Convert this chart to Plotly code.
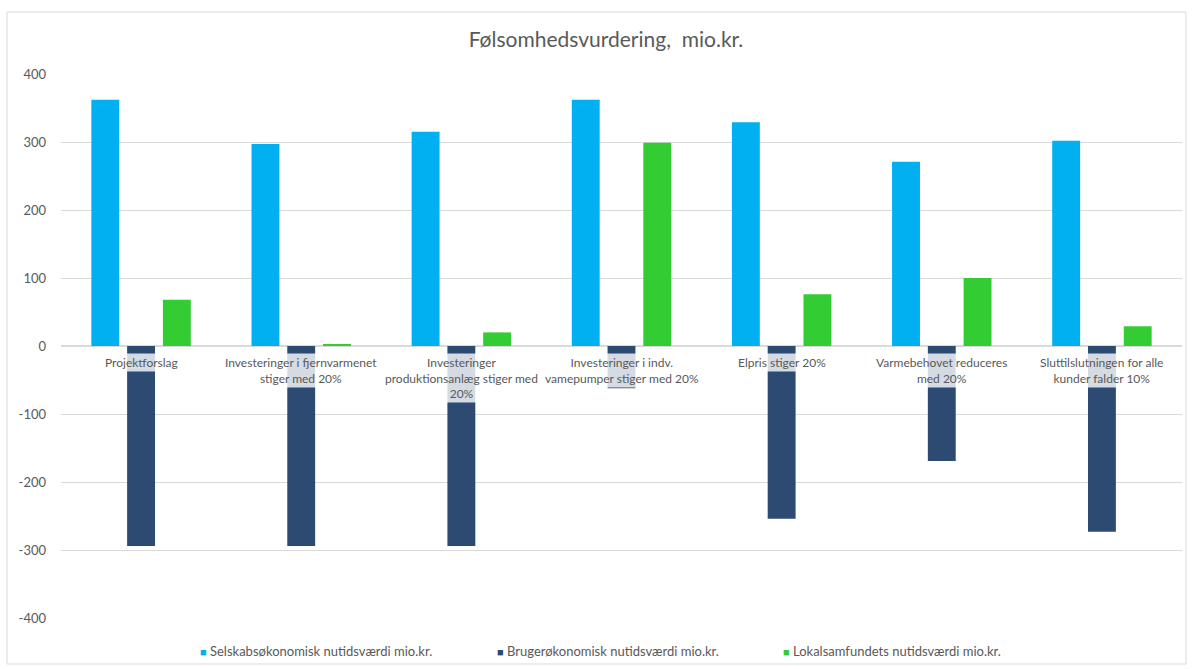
import plotly.graph_objects as go

categories = [
    "Projektforslag",
    "Investeringer i fjernvarmenet<br>stiger med 20%",
    "Investeringer<br>produktionsanlæg stiger med<br>20%",
    "Investeringer i indv.<br>vamepumper stiger med 20%",
    "Elpris stiger 20%",
    "Varmebehovet reduceres<br>med 20%",
    "Sluttilslutningen for alle<br>kunder falder 10%",
]
selskab = [362, 297, 315, 362, 329, 271, 302]
bruger = [-294, -294, -294, -62, -254, -169, -273]
lokal = [68, 2, 20, 299, 76, 100, 29]
series_names = [
    "Selskabsøkonomisk nutidsværdi mio.kr.",
    "Brugerøkonomisk nutidsværdi mio.kr.",
    "Lokalsamfundets nutidsværdi mio.kr.",
]
colors = ["#00B0F0", "#2C4A72", "#33CC33"]
y_ticks = [-400, -300, -200, -100, 0, 100, 200, 300, 400]
y_tick_labels = [str(v) for v in y_ticks]

FONT = "Lato, 'Open Sans', sans-serif"
GREY = "#595959"

W, H = 1192, 669
l, r, t, b = 61, 10, 74, 51
pw, ph = W - l - r, H - t - b

fig = go.Figure()
for name, vals, col in zip(series_names, [selskab, bruger, lokal], colors):
    fig.add_trace(go.Bar(x=categories, y=vals, name=name, marker_color=col,
                         marker_line_width=0, showlegend=False))

for c in categories:
    fig.add_annotation(x=c, y=0, xref="x", yref="y", text=c, showarrow=False,
                       yanchor="top", yshift=-7, align="center",
                       font=dict(family=FONT, size=12, color=GREY),
                       bgcolor="rgba(255,255,255,0.8)", borderpad=1)

# legend drawn as coloured squares + text
legend_px = [198, 495, 781]
for name, col, px in zip(series_names, colors, legend_px):
    fig.add_annotation(x=(px - l) / pw, y=-(651 - (H - b)) / ph,
                       xref="paper", yref="paper", xanchor="left",
                       yanchor="middle", showarrow=False,
                       text=f"<span style='color:{col};font-size:11px'>■</span> {name}",
                       font=dict(family=FONT, size=13, color=GREY))

# outer chart border
fig.add_shape(type="rect", xref="paper", yref="paper",
              x0=(7 - l) / pw, x1=(1186 - l) / pw,
              y0=(H - b - 664) / ph, y1=(H - b - 12) / ph,
              line=dict(color="#d9d9d9", width=1), layer="below")

fig.update_layout(
    width=W, height=H,
    margin=dict(l=l, r=r, t=t, b=b, autoexpand=False),
    paper_bgcolor="white", plot_bgcolor="white",
    barmode="group", bargap=0.33, bargroupgap=0.22,
    showlegend=False,
    title=dict(text="Følsomhedsvurdering,  mio.kr.", xref="container",
               x=606 / W, xanchor="center",
               y=1 - 40 / H, yanchor="middle",
               font=dict(family=FONT, size=21, color=GREY)),
    font=dict(family=FONT, color=GREY),
    xaxis=dict(showticklabels=False, ticks="", showgrid=False, showline=False,
               zeroline=False),
    yaxis=dict(range=[-400, 400], tickvals=y_ticks, ticktext=y_tick_labels,
               showgrid=True,
               gridcolor="#d9d9d9", gridwidth=1, zeroline=True,
               zerolinecolor="#d9d9d9", zerolinewidth=1.5, showline=False,
               ticks="", ticklabelstandoff=14,
               tickfont=dict(family=FONT, size=13, color=GREY)),
)

fig.write_html("out.html")
